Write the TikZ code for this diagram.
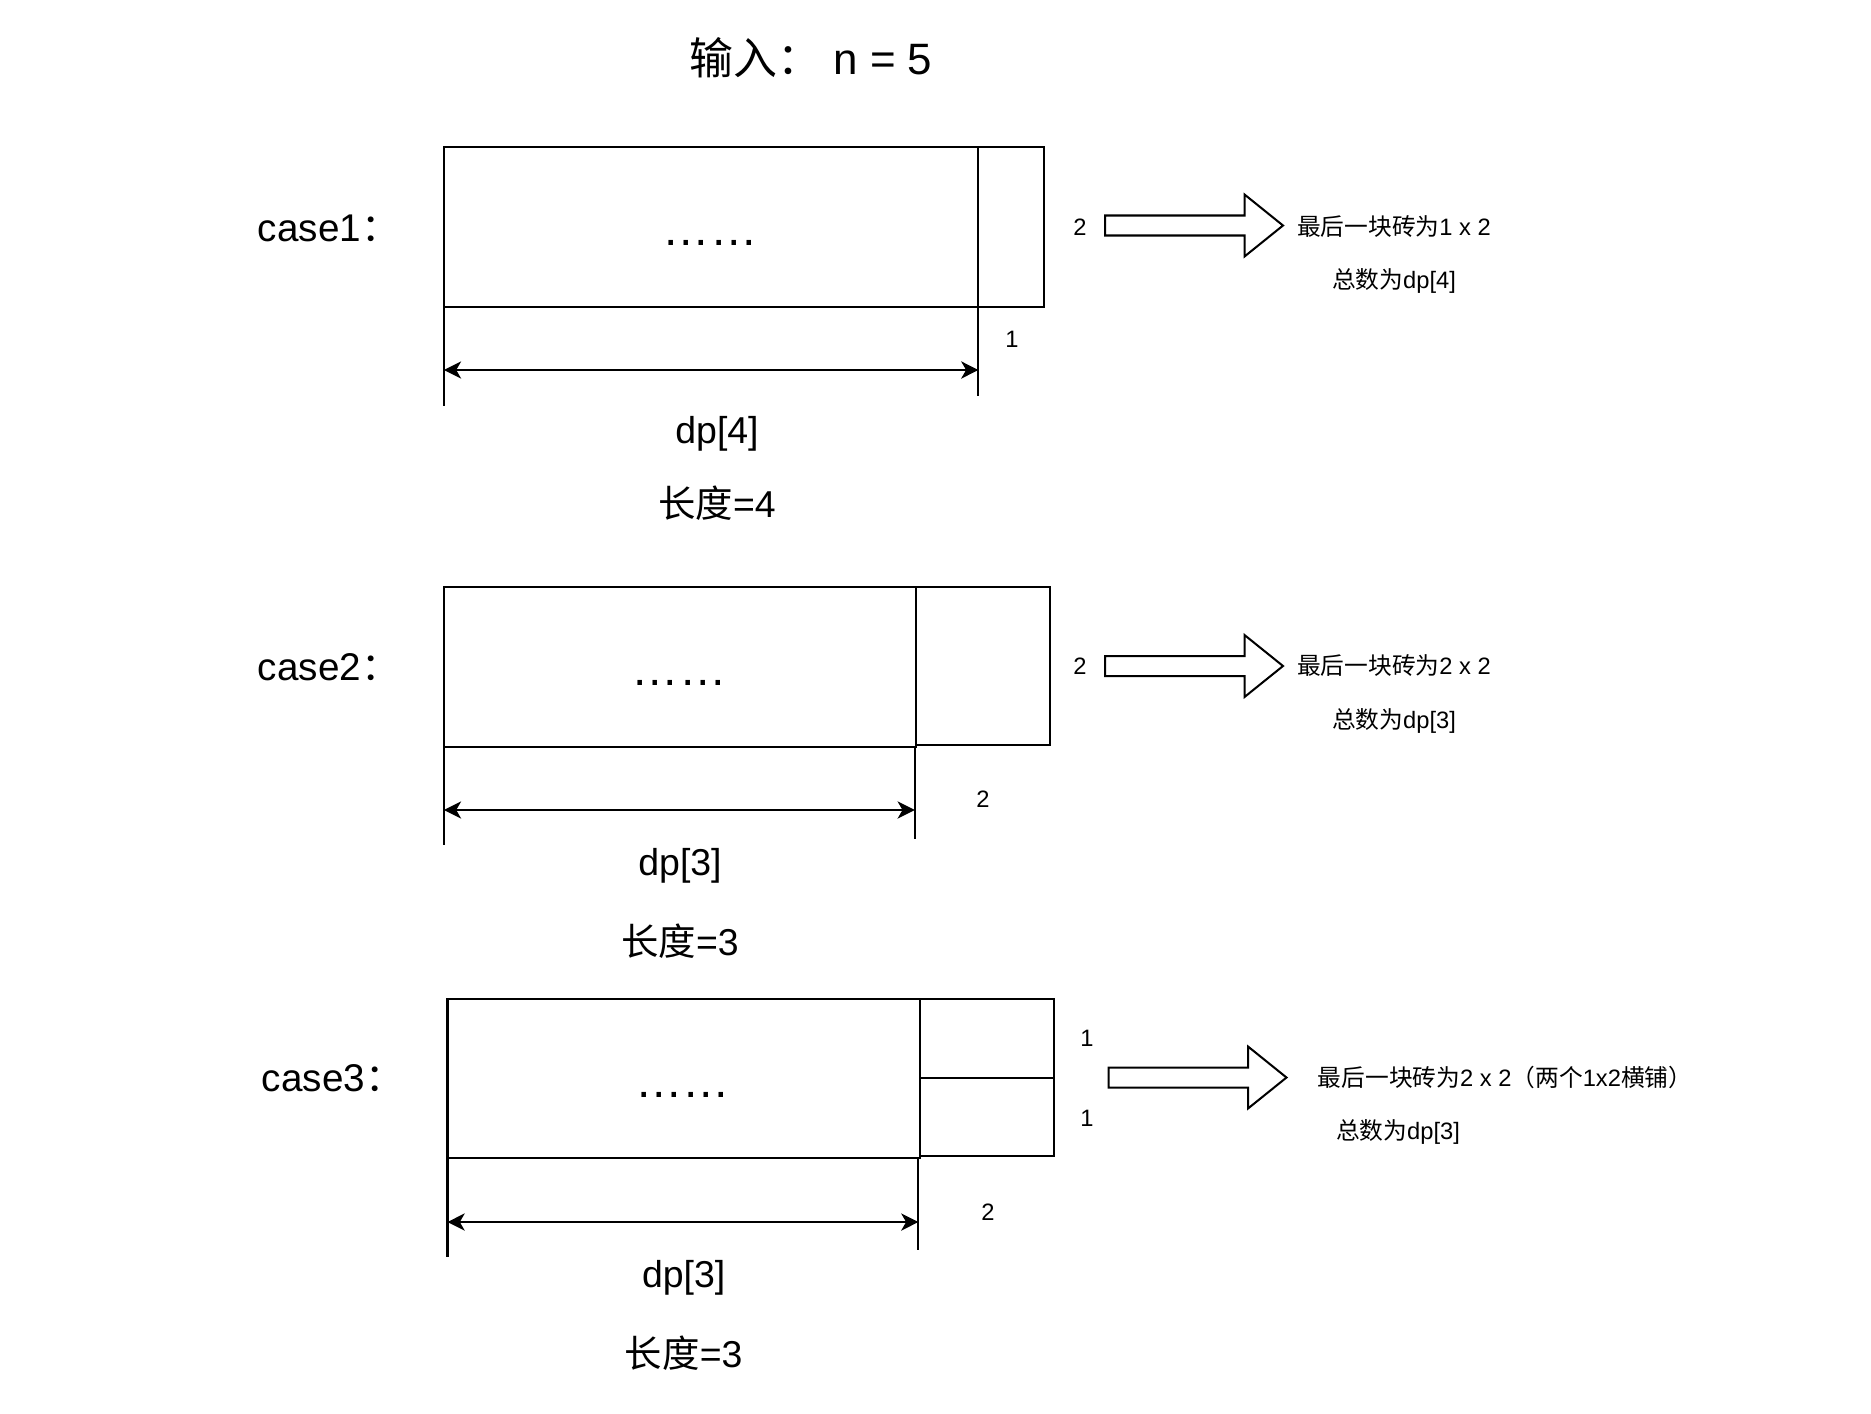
\documentclass[tikz,border=0pt]{standalone}
\usepackage{fontspec}
\setmainfont{Liberation Sans}
\newfontfamily\cjk{Noto Sans CJK SC}
\usetikzlibrary{arrows.meta}
\newcommand{\zh}[1]{{\cjk #1}}
\begin{document}
\begin{tikzpicture}[x=0.02cm,y=-0.02cm,
  line width=1.15pt,
  box/.style={draw,line width=1.15pt},
  dim/.style={{Stealth[length=9.8pt,width=9.8pt,inset=2.8pt]}-{Stealth[length=9.8pt,width=9.8pt,inset=2.8pt]},line width=1.15pt},
  title/.style={font=\fontsize{25}{30}\selectfont},
  caselbl/.style={font=\fontsize{22}{26}\selectfont,anchor=west},
  lbl/.style={font=\fontsize{21.3}{25}\selectfont},
  small/.style={font=\fontsize{13.5}{16}\selectfont},
  dotsty/.style={font=\fontsize{27}{30}\selectfont,anchor=base},
  bigarrow/.style={draw,line width=1.15pt,fill=white},
  blockarrow/.pic={\draw[bigarrow] (0,-10) -- (139.5,-10) -- (139.5,-31) -- (178,0) -- (139.5,31) -- (139.5,10) -- (0,10) -- cycle;}
]
\useasboundingbox (0,0) rectangle (1871,1413);

% title
\node[title] (title) at (811,58) {\zh{输入：} n = 5};

% ---------------- case 1 ----------------
\node[caselbl] (c1) at (251,228) {case1\zh{：}};
\draw[box] (443.9,146.8) rectangle (978.4,306.7);
\draw[box] (978.4,146.8) rectangle (1044,306.7);
\draw (443.9,306.7) -- (443.9,405.7);
\draw (978.4,306.7) -- (978.4,396);
\node[dotsty] (d1) at (710,245) {……};
\coordinate (a1l) at (443.9,370);
\coordinate (a1r) at (978.4,370);
\draw[dim] (a1l) -- (a1r);
\node[small] (n1a) at (1012,339) {1};
\node[small] (n1b) at (1080,227) {2};
\pic at (1105,225.5) {blockarrow};
\node[small] (t1a) at (1394,227) {\zh{最后一块砖为}1 x 2};
\node[small] (t1b) at (1394,280.5) {\zh{总数为}dp[4]};
\node[lbl] (dp1) at (717,433.5) {dp[4]};
\node[lbl] (len1) at (717,503.5) {\zh{长度}=4};

% ---------------- case 2 ----------------
\node[caselbl] (c2) at (251,667) {case2\zh{：}};
\draw[box] (443.9,587) rectangle (916.4,747);
\draw[box] (916.4,587) rectangle (1050,744.5);
\draw (443.9,747) -- (443.9,845);
\draw (914.8,747) -- (914.8,839);
\node[dotsty] (d2) at (679,685) {……};
\coordinate (a2l) at (443.9,810);
\coordinate (a2r) at (914.8,810);
\draw[dim] (a2l) -- (a2r);
\node[small] (n2a) at (983,799) {2};
\node[small] (n2b) at (1080,666) {2};
\pic at (1105,666) {blockarrow};
\node[small] (t2a) at (1394,666) {\zh{最后一块砖为}2 x 2};
\node[small] (t2b) at (1394,721) {\zh{总数为}dp[3]};
\node[lbl] (dp2) at (680,865.5) {dp[3]};
\node[lbl] (len2) at (680,941.5) {\zh{长度}=3};

% ---------------- case 3 ----------------
\node[caselbl] (c3) at (255,1078.5) {case3\zh{：}};
\draw[box] (447.5,999) rectangle (920,1158);
\draw[box] (920,999) rectangle (1053.6,1156);
\draw (920,1077.5) -- (1053.6,1077.5);
\draw (447.5,1158) -- (447.5,1256.5);
\draw (918.4,1158) -- (918.4,1250);
\node[dotsty] (d3) at (682.5,1097) {……};
\coordinate (a3l) at (447.5,1222);
\coordinate (a3r) at (918.4,1222);
\draw[dim] (a3l) -- (a3r);
\node[small] (n3a) at (1087,1038) {1};
\node[small] (n3b) at (1087,1118) {1};
\node[small] (n3c) at (988,1212) {2};
\pic at (1108.5,1077.5) {blockarrow};
\node[small] (t3a) at (1505,1077.5) {\zh{最后一块砖为}2 x 2\zh{（两个}1x2\zh{横铺）}};
\node[small] (t3b) at (1398,1132) {\zh{总数为}dp[3]};
\node[lbl] (dp3) at (683.7,1277.8) {dp[3]};
\node[lbl] (len3) at (683.7,1353) {\zh{长度}=3};
\end{tikzpicture}
\end{document}
